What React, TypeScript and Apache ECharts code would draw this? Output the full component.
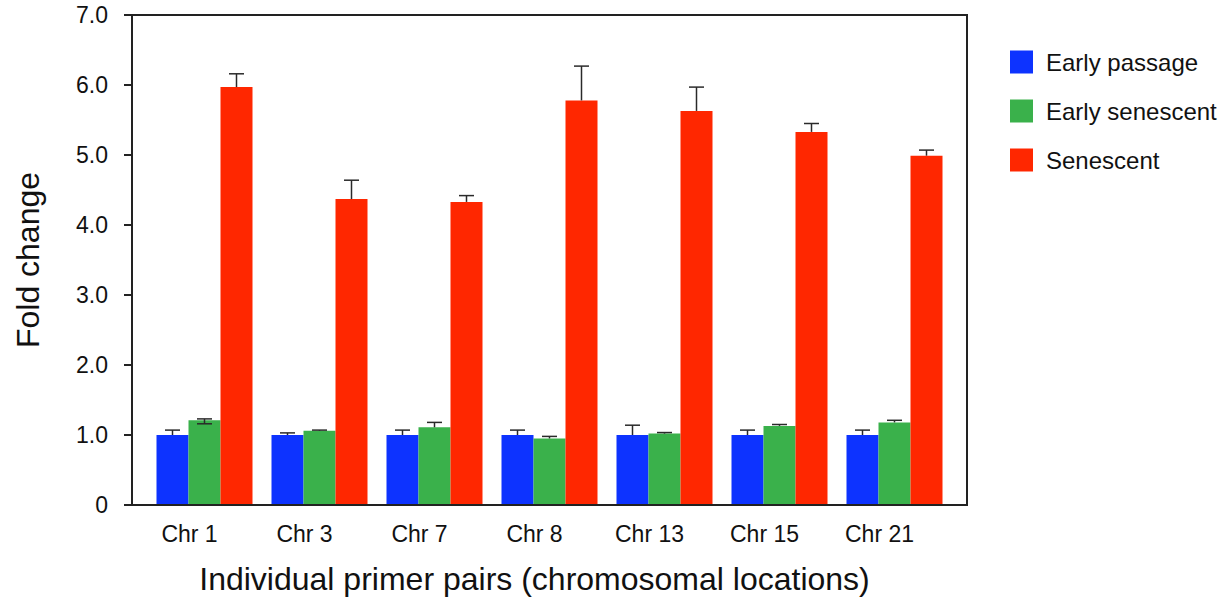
import React, { useEffect, useRef } from "react";
import * as echarts from "echarts";

const categories = ["Chr 1", "Chr 3", "Chr 7", "Chr 8", "Chr 13", "Chr 15", "Chr 21"];
const seriesNames = ["Early passage", "Early senescent", "Senescent"];
const earlyPassage = [1.0, 1.0, 1.0, 1.0, 1.0, 1.0, 1.0];
const earlyPassageErr = [0.07, 0.03, 0.07, 0.07, 0.14, 0.07, 0.07];
const earlySenescent = [1.21, 1.06, 1.11, 0.95, 1.02, 1.13, 1.18];
const earlySenescentErr = [0.02, 0.01, 0.07, 0.03, 0.015, 0.02, 0.03];
const earlySenescentErrLow = [0.05, 0, 0, 0, 0, 0, 0];
const senescent = [5.97, 4.37, 4.33, 5.78, 5.63, 5.33, 4.99];
const senescentErr = [0.19, 0.27, 0.09, 0.49, 0.34, 0.12, 0.08];
const yTicks = [0, 1, 2, 3, 4, 5, 6, 7];
const colors = ["#0D33FF", "#3AB14B", "#FF2700"];

const FONT = "'Liberation Sans', Arial, Helvetica, sans-serif";
const BAR_W = 32;

export default function App() {
  const ref = useRef<HTMLDivElement>(null);
  useEffect(() => {
    if (!ref.current) return;
    const chart = echarts.init(ref.current, null, { renderer: "svg" });
    const values = [earlyPassage, earlySenescent, senescent];
    const errs = [earlyPassageErr, earlySenescentErr, senescentErr];
    const errsLow = [categories.map(() => 0), earlySenescentErrLow, categories.map(() => 0)];

    const barSeries = values.map((vals, si) => ({
      name: seriesNames[si],
      type: "bar",
      xAxisIndex: 2,
      yAxisIndex: 2,
      barWidth: BAR_W,
      barGap: "0%",
      itemStyle: { color: colors[si] },
      data: vals,
      z: 2,
    }));

    const errSeries = values.map((vals, si) => ({
      type: "custom",
      xAxisIndex: 2,
      yAxisIndex: 2,
      z: 5,
      silent: true,
      encode: { x: 0, y: 1 },
      data: vals.map((v, i) => [i, v, errs[si][i], errsLow[si][i]]),
      renderItem: (params: any, api: any) => {
        const ci = api.value(0);
        const v = api.value(1);
        const up = api.value(2);
        const lo = api.value(3);
        const base = api.coord([ci, v]);
        const x = base[0] + (si - 1) * BAR_W;
        const yTop = api.coord([ci, v + up])[1];
        const yBot = api.coord([ci, v - lo])[1];
        const style = { stroke: "#2a2a2a", lineWidth: 1.5 };
        const children: any[] = [
          { type: "line", shape: { x1: x, y1: yBot, x2: x, y2: yTop }, style },
          { type: "line", shape: { x1: x - 7.5, y1: yTop, x2: x + 7.5, y2: yTop }, style },
        ];
        if (lo > 0) {
          children.push({ type: "line", shape: { x1: x - 7.5, y1: yBot, x2: x + 7.5, y2: yBot }, style });
        }
        return { type: "group", children };
      },
    }));

    chart.setOption({
      animation: false,
      textStyle: { fontFamily: FONT },
      legend: {
        orient: "vertical",
        left: 1005,
        top: 45,
        itemWidth: 23,
        itemHeight: 23,
        itemGap: 25,
        icon: "rect",
        data: seriesNames,
        textStyle: { fontSize: 24, color: "#111", fontFamily: FONT, padding: [0, 0, 0, 8], lineHeight: 23 },
      },
      grid: [
        { left: 132, right: 257, top: 15, bottom: 95, show: true, borderColor: "#222", borderWidth: 2, backgroundColor: "transparent" },
        { left: 132, width: 805, top: 15, bottom: 95 },
        { left: 147, width: 805, top: 15, bottom: 95 },
      ],
      xAxis: [
        {
          gridIndex: 0, type: "value", min: 0, max: 1, z: 10,
          axisLine: { show: true, lineStyle: { color: "#222", width: 2 } },
          axisTick: { show: false }, axisLabel: { show: false }, splitLine: { show: false },
        },
        {
          gridIndex: 1, type: "category", data: categories,
          axisLine: { show: false }, axisTick: { show: false }, splitLine: { show: false },
          axisLabel: { fontSize: 23, color: "#111", margin: 19, fontFamily: FONT },
          name: "Individual primer pairs (chromosomal locations)",
          nameLocation: "middle",
          nameGap: 60,
          nameTextStyle: { fontSize: 32, color: "#111", fontFamily: FONT },
        },
        { gridIndex: 2, type: "category", data: categories, show: false },
      ],
      yAxis: [
        {
          gridIndex: 0, type: "value", min: 0, max: 7, interval: 1, z: 10,
          axisLine: { show: true, lineStyle: { color: "#222", width: 2 } },
          axisTick: { show: true, inside: false, length: 8, lineStyle: { color: "#222", width: 2 } },
          splitLine: { show: false },
          axisLabel: {
            fontSize: 23, color: "#111", margin: 24, fontFamily: FONT,
            formatter: (v: number) => (v === 0 ? "0" : v.toFixed(1)),
          },
          name: "Fold change",
          nameLocation: "middle",
          nameRotate: 90,
          nameGap: 88,
          nameTextStyle: { fontSize: 32, color: "#111", fontFamily: FONT },
        },
        { gridIndex: 1, type: "value", min: 0, max: 7, show: false },
        { gridIndex: 2, type: "value", min: yTicks[0], max: yTicks[yTicks.length - 1], show: false },
      ],
      series: [...barSeries, ...errSeries],
    });
    return () => chart.dispose();
  }, []);
  return <div ref={ref} style={{ width: 1224, height: 600, position: "absolute", left: 0, top: 0 }} />;
}
